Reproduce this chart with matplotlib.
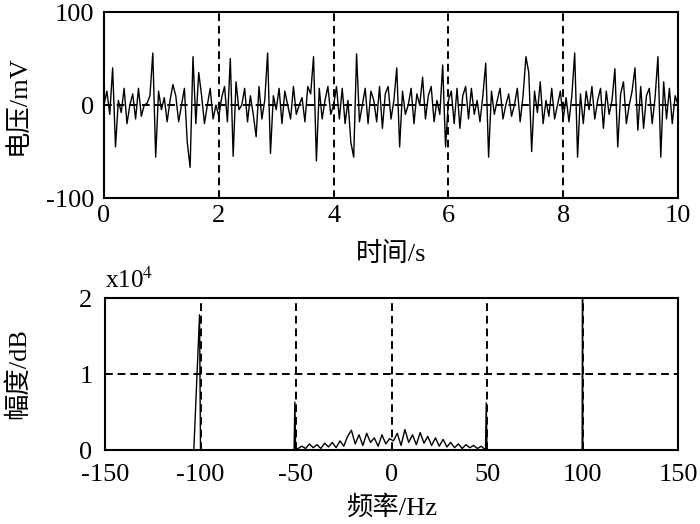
"""Two-panel plot: time-domain voltage signal and its amplitude spectrum."""

import matplotlib

matplotlib.use("Agg")
import matplotlib.pyplot as plt  # noqa: E402
import numpy as np  # noqa: E402

plt.rcParams["font.family"] = ["Liberation Serif", "Noto Sans CJK SC"]
plt.rcParams["mathtext.fontset"] = "stix"
plt.rcParams["axes.unicode_minus"] = False

# time-domain signal, sampled every 0.05 s (mV)
t_step = 0.05
volt_0_2 = [0, 15, -10, 40, -45, 5, -8, 18, -20, 0, 12, -15, 18, -12, 0, 2, 10, 56, -56, 15,
            -5, 8, -18, 5, 22, 10, -18, 0, 18, -40, -67, 52, -20, 35, 10, -20, 0, 18, -15, 0]
volt_2_4 = [-12, 8, 20, -18, 50, -55, 25, -5, 0, 18, -18, 10, -10, -34, 20, -15, 5, 56, -52, 10,
            -5, 18, -20, 15, 0, -15, 20, -10, 0, 8, -18, 20, 12, 52, -60, 18, -15, 5, 20, -10]
volt_4_6 = [0, 20, -15, 18, -20, 5, -40, -56, 55, -18, 0, 18, -20, 15, 5, -18, 20, -25, 12, 20,
            -15, 5, 40, -45, 15, -10, 0, 18, -20, 12, 0, 30, -15, 10, 20, -18, 5, -10, 43, -45]
volt_6_8 = [5, 15, -20, 18, -25, 10, 20, -15, 18, -10, 5, -18, 10, 45, -56, 15, -10, 5, 18, -15,
            0, 12, -12, 0, 18, -18, 10, 52, 35, -50, 15, -8, 25, -20, 5, -12, 18, -15, 0, 15]
volt_8_10 = [-15, 8, -18, 10, 56, -56, 12, -20, 15, -5, 20, -15, 5, 18, -25, 15, -10, 5, 39, -45,
             12, 25, -20, 0, 15, 40, -27, 20, -25, 10, 18, -20, 8, 52, -56, 25, -15, 18, -20, 10, 0]

# spectrum (x10^4): line components and the low-level band between -47 and 47 Hz
spike_neg100_f = [-103.5, -100.5, -100.0]
spike_neg100_a = [0.0, 1.78, 0.0]
spike_neg50_f = [-51.0, -50.6, -50.2]
spike_neg50_a = [0.0, 0.63, 0.0]
noise_f = list(range(-47, 48, 2))
noise_a = [0.05, 0.02, 0.08, 0.03, 0.07, 0.02, 0.09, 0.04, 0.10, 0.03, 0.12, 0.05,
           0.18, 0.26, 0.08, 0.20, 0.06, 0.22, 0.10, 0.16, 0.05, 0.20, 0.08, 0.15,
           0.12, 0.22, 0.06, 0.27, 0.10, 0.20, 0.07, 0.23, 0.09, 0.18, 0.06, 0.16,
           0.05, 0.14, 0.04, 0.10, 0.03, 0.08, 0.02, 0.07, 0.03, 0.06, 0.02, 0.05]
spike_pos50_f = [49.2, 49.6, 50.0]
spike_pos50_a = [0.0, 0.62, 0.0]
spike_pos100_f = [99.8, 100.0, 100.2]
spike_pos100_a = [0.0, 2.6, 0.0]

volt = np.array(volt_0_2 + volt_2_4 + volt_4_6 + volt_6_8 + volt_8_10)
t = np.arange(len(volt)) * t_step

freq = [-150.0] + spike_neg100_f + spike_neg50_f + noise_f + spike_pos50_f + spike_pos100_f + [150.0]
amp = [0.0] + spike_neg100_a + spike_neg50_a + noise_a + spike_pos50_a + spike_pos100_a + [0.0]

fig = plt.figure(figsize=(7.0, 5.24), dpi=100)
ax1 = fig.add_axes([0.1486, 0.622, 0.82, 0.355])
ax2 = fig.add_axes([0.15, 0.1412, 0.8186, 0.290])

grid_kw = dict(color="black", linestyle=(0, (4, 2.5)), linewidth=1.4)

for ax in (ax1, ax2):
    for s in ax.spines.values():
        s.set_linewidth(1.5)
    ax.tick_params(length=0, labelsize=19)
    ax.tick_params(axis="x", pad=5)
    ax.tick_params(axis="y", pad=7)
    ax.grid(True, **grid_kw)
    ax.set_axisbelow(True)

ax1.plot(t, volt, color="black", linewidth=1.0)
ax1.set_xlim(0, 10)
ax1.set_ylim(-100, 100)
ax1.set_xticks([0, 2, 4, 6, 8, 10])
ax1.set_yticks([-100, 0, 100])
ax1.set_xlabel("时间/s", fontsize=19)
ax1.set_ylabel("电压/mV", fontsize=19)
ax1.xaxis.set_label_coords(0.5, -0.235)
ax1.yaxis.set_label_coords(-0.13, 0.5)

ax2.plot(freq, amp, color="black", linewidth=1.0)
ax2.set_xlim(-150, 150)
ax2.set_ylim(0, 2)
ax2.set_xticks([-150, -100, -50, 0, 50, 100, 150])
ax2.set_yticks([0, 1, 2])
ax2.tick_params(axis="x", pad=10)
ax2.tick_params(axis="y", pad=9)
ax2.set_xlabel("频率/Hz", fontsize=19)
ax2.set_ylabel("幅度/dB", fontsize=19)
ax2.xaxis.set_label_coords(0.5, -0.30)
ax2.yaxis.set_label_coords(-0.13, 0.5)
ax2.text(0.0, 1.03, r"x10$^{4}$", transform=ax2.transAxes, fontsize=18,
         ha="left", va="bottom")

fig.savefig("out.png", dpi=100)
plt.close(fig)
